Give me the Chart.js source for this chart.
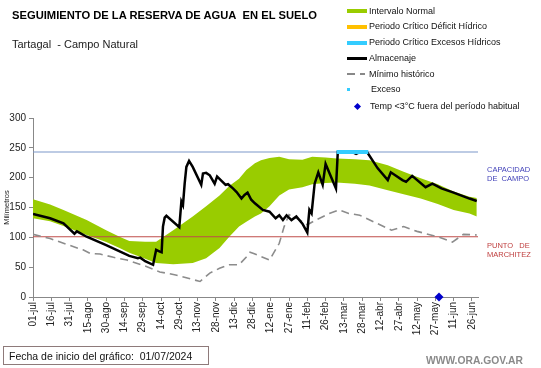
<!DOCTYPE html>
<html>
<head>
<meta charset="utf-8">
<script src="https://cdn.jsdelivr.net/npm/chart.js@4.4.1/dist/chart.umd.min.js"></script>
<style>
  html,body{margin:0;padding:0;background:#fff;}
  #wrap{position:relative;width:541px;height:368px;background:#fff;overflow:hidden;font-family:"Liberation Sans",Arial,sans-serif;}
  #c{position:absolute;left:0;top:0;}
  .t{position:absolute;white-space:nowrap;line-height:1;}
  .sw{position:absolute;}
</style>
</head>
<body>
<div id="wrap">
  <canvas id="c" width="541" height="368"></canvas>
  <div class="t" style="left:12px;top:10px;font-weight:bold;font-size:11.2px;color:#000;">SEGUIMIENTO DE LA RESERVA DE AGUA&nbsp; EN EL SUELO</div>
  <div class="t" style="left:12px;top:38.5px;font-size:11px;color:#222;">Tartagal&nbsp; - Campo Natural</div>

  <div class="sw" style="left:347px;top:9px;width:20px;height:4px;background:#99CC00;"></div>
  <div class="t" style="left:369px;top:6.6px;font-size:9px;color:#111;">Intervalo Normal</div>
  <div class="sw" style="left:347px;top:25px;width:20px;height:4px;background:#FFC000;"></div>
  <div class="t" style="left:369px;top:22.3px;font-size:9px;color:#111;">Periodo Crítico Déficit Hídrico</div>
  <div class="sw" style="left:347px;top:41px;width:20px;height:4px;background:#33CCFF;"></div>
  <div class="t" style="left:369px;top:38.3px;font-size:9px;color:#111;">Periodo Crítico Excesos Hídricos</div>
  <div class="sw" style="left:347px;top:57px;width:20px;height:2.5px;background:#000;"></div>
  <div class="t" style="left:369px;top:53.9px;font-size:9px;color:#111;">Almacenaje</div>
  <div class="sw" style="left:347px;top:73px;width:8px;height:1.5px;background:#888;"></div>
  <div class="sw" style="left:360px;top:73px;width:5px;height:1.5px;background:#888;"></div>
  <div class="t" style="left:369px;top:69.6px;font-size:9px;color:#111;">Mínimo histórico</div>
  <div class="sw" style="left:347px;top:88px;width:3px;height:3px;background:#33CCFF;"></div>
  <div class="t" style="left:371px;top:84.9px;font-size:9px;color:#111;">Exceso</div>
  <div class="sw" style="left:354.5px;top:103.5px;width:5px;height:5px;background:#0000CC;transform:rotate(45deg);"></div>
  <div class="t" style="left:370px;top:101.6px;font-size:9px;color:#111;">Temp &lt;3°C fuera del período habitual</div>

  <div class="t" style="left:487px;top:166.3px;font-size:7.5px;color:#3F3FB8;">CAPACIDAD</div>
  <div class="t" style="left:487px;top:175.3px;font-size:7.5px;color:#3F3FB8;">DE&nbsp; CAMPO</div>
  <div class="t" style="left:487px;top:241.8px;font-size:7.5px;color:#C04040;">PUNTO&nbsp;&nbsp; DE</div>
  <div class="t" style="left:487px;top:251.3px;font-size:7.5px;color:#C04040;">MARCHITEZ</div>

  <div style="position:absolute;left:3px;top:346px;width:206px;height:19px;border:1px solid #8E7A7A;box-sizing:border-box;"></div>
  <div class="t" style="left:9px;top:350.5px;font-size:10.5px;color:#111;">Fecha de inicio del gráfico:&nbsp; 01/07/2024</div>
  <div class="t" style="left:426px;top:355.5px;font-size:10.3px;font-weight:bold;color:#8a8a8a;">WWW.ORA.GOV.AR</div>
</div>
<script>
const xLabels = ['01-jul','16-jul','31-jul','15-ago','30-ago','14-sep','29-sep','14-oct','29-oct','13-nov','28-nov','13-dic','28-dic','12-ene','27-ene','11-feb','26-feb','13-mar','28-mar','12-abr','27-abr','12-may','27-may','11-jun','26-jun'];
const yTicks = [0,50,100,150,200,250,300];

const bandDays  = [0,14,25,44,60,71,79,92,101,115,131,142,153,161,169,175,182,187,194,202,210,221,229,240,249,264,276,291,304,318,332,345,358,364];
const bandUpper = [164,155,146,129,112,101,94,92.5,92.5,112,135,152,170,186,198,213,224,229,233,235,231,230,235,234,232,231,229,221,210,199,189,177,168,166];
const bandLower = [132,127,119,104,92,82,74,64,57,55,57,65,82,101,118,126,135,140,152,170,180,184,189,191,192,190,187,179,172,165,156,146,140,135];

const almDays   = [0,14,25,34,36,44,60,79,86,88,92,98.5,101,104,105.5,106.6,108,109.4,120,121.7,123,124.4,125.8,128,131,138,139.4,142,145,149,151,154,158,160,164,167,171,173.5,176,179,182,188.5,194,199,202,205,208,212,216,221,225,226.7,228.5,231,234,237.6,240,248.5,250,262,265,268,274,282.6,291,293.5,303,306,311,322,327.6,335,345,358,364];
const almValues = [139,132,123.5,106,110,101,87,69,65,66,60,54,79,76,75,118,133,136,117,160,154,190,218,228,218,188,207,208,204,190,202,196,188,189,182,176,165,171,175,163,157,146,143,132,137,129,137,129,135,123,108,146,140,190,209,188,223,182,243,243,240,243,243,216,196,209,196,193,203,184,190,182,175,165,161];

const minDays   = [0,14,25,41,47,55,66,77,92,104,117,137,145,153,161,169,175,178,181,194,202,206,210,218,225,232,243,251,259,268,282,294,304,315,332,344,353,364];
const minValues = [105,98,90,79,73,72,66.5,62,52,42,37,26,40,48,54,54,67,75,73,62,90,118,138,130,121,129,140,146,140,137,123.5,112,118,110,101,92,105,104];

const capacidadCampo = 243;
const puntoMarchitez = 101;
const excesoCriticoDays = [249, 275];
const tempFrioDays = [333];
const axisStartDay = 0, axisEndDay = 365;

const pts = (xs, ys) => xs.map((x, i) => ({x: x, y: ys[i]}));
const flat = (xs, v) => xs.map(x => ({x: x, y: v}));
const FONT = '"Liberation Sans", Arial, sans-serif';

new Chart(document.getElementById('c'), {
  type: 'line',
  data: {
    datasets: [
      {data: tempFrioDays.map(d => ({x: d, y: 0})), showLine: false, pointStyle: 'rectRot', pointRadius: 4.5,
       pointBackgroundColor: '#0000CC', pointBorderColor: '#0000CC', borderWidth: 0, clip: false, order: 0},
      {data: flat(excesoCriticoDays, capacidadCampo), borderColor: '#33CCFF', borderWidth: 4, pointRadius: 0, order: 1},
      {data: pts(almDays, almValues), borderColor: '#000', borderWidth: 2.5, pointRadius: 0, tension: 0, order: 2},
      {data: pts(minDays, minValues), borderColor: '#8C8C8C', borderWidth: 1.6, borderDash: [8, 5], pointRadius: 0, order: 3},
      {data: flat([axisStartDay, axisEndDay], capacidadCampo), borderColor: '#7C97C9', borderWidth: 1.2, pointRadius: 0, order: 4},
      {data: flat([axisStartDay, axisEndDay], puntoMarchitez), borderColor: '#BF4D4A', borderWidth: 1.2, pointRadius: 0, order: 5},
      {data: pts(bandDays, bandUpper), borderWidth: 0, borderColor: 'rgba(0,0,0,0)', pointRadius: 0,
       fill: '+1', backgroundColor: '#99CC00', order: 6},
      {data: pts(bandDays, bandLower), borderWidth: 0, borderColor: 'rgba(0,0,0,0)', pointRadius: 0, fill: false, order: 7}
    ]
  },
  options: {
    responsive: false,
    animation: false,
    devicePixelRatio: 1,
    layout: {padding: {top: 118, right: 63, bottom: 0, left: 0}},
    plugins: {legend: {display: false}, tooltip: {enabled: false}},
    scales: {
      x: {
        type: 'linear', min: axisStartDay, max: axisEndDay,
        afterFit: s => { s.height = 71; },
        afterBuildTicks: s => { s.ticks = xLabels.map((l, i) => ({value: i * 15})); },
        ticks: {autoSkip: false, minRotation: 90, maxRotation: 90, padding: 1,
                font: {family: FONT, size: 10}, color: '#222',
                callback: v => xLabels[Math.round(v / 15)]},
        grid: {drawOnChartArea: false, drawTicks: true, tickLength: 4, color: '#888'},
        border: {display: true, color: '#888', width: 1}
      },
      y: {
        min: 0, max: 300,
        afterFit: s => { s.width = 33; },
        afterBuildTicks: s => { s.ticks = yTicks.map(v => ({value: v})); },
        ticks: {padding: 3, font: {family: FONT, size: 10}, color: '#222'},
        title: {display: true, text: 'Milímetros', font: {family: FONT, size: 7.5}, color: '#222', padding: {top: 2, bottom: 0}},
        grid: {drawOnChartArea: false, drawTicks: true, tickLength: 4, color: '#888'},
        border: {display: true, color: '#888', width: 1}
      }
    }
  }
});
</script>
</body>
</html>
